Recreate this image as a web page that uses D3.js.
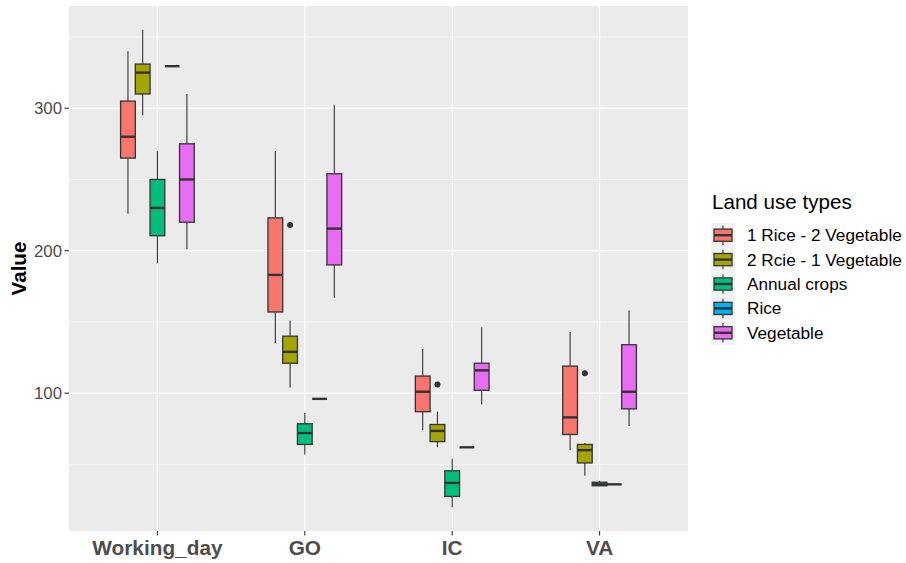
<!DOCTYPE html>
<html>
<head>
<meta charset="utf-8">
<script src="https://cdn.jsdelivr.net/npm/d3@7"></script>
<style>
  body { margin: 0; background: #fff; }
  svg { display: block; font-family: "Liberation Sans", Arial, sans-serif; }
</style>
</head>
<body>
<svg id="chart"></svg>
<script>
// categories on the x axis and the fill groups
var categories = ["Working_day", "GO", "IC", "VA"];
var landUse = ["1 Rice - 2 Vegetable", "2 Rcie - 1 Vegetable", "Annual crops", "Rice", "Vegetable"];
var colors = ["#F8766D", "#A3A500", "#00BF7D", "#00B0F6", "#E76BF3"];

// box stats per category: [lower whisker, q1, median, q3, upper whisker]
var rice1Veg2 = [[226, 265, 280, 305, 340], [135, 157, 183, 223, 270], [74, 87, 101, 112, 131], [60, 71, 83, 119, 143]];
var rice2Veg1 = [[295, 310, 325, 331, 355], [104, 121, 129, 140, 151], [62, 66, 73.5, 78, 87], [42, 51, 60, 64, 65]];
var annualCrops = [[191, 210.5, 230, 250, 270], [57, 64, 72, 78.5, 86], [20, 27.5, 37, 45.5, 54], [35, 35, 36, 37.5, 38.5]];
var rice = [[329.5, 329.5, 329.5, 329.5, 329.5], [96, 96, 96, 96, 96], [62, 62, 62, 62, 62], [36, 36, 36, 36, 36]];
var vegetable = [[201, 220, 250, 275, 310], [167, 190, 215.5, 254, 302], [92, 102, 116, 121, 146], [77, 89, 101, 134, 158]];

// outliers per category
var rice1Veg2Out = [[], [], [], []];
var rice2Veg1Out = [[], [218], [106], [114]];
var annualOut = [[], [], [], []];
var riceOut = [[], [], [], []];
var vegetableOut = [[], [], [], []];

var yTicks = [100, 200, 300];
var yMinor = [50, 150, 250, 350];

var stats = [rice1Veg2, rice2Veg1, annualCrops, rice, vegetable];
var outs = [rice1Veg2Out, rice2Veg1Out, annualOut, riceOut, vegetableOut];

var width = 906, height = 563;
var panel = {left: 69, right: 688, top: 6, bottom: 531};

var svg = d3.select("#chart").attr("width", width).attr("height", height);

// y domain from data with 5% expansion like ggplot
var allVals = [];
stats.forEach(function(s) { s.forEach(function(b) { allVals.push(b[0], b[4]); }); });
outs.forEach(function(s) { s.forEach(function(o) { o.forEach(function(v) { allVals.push(v); }); }); });
var lo = d3.min(allVals), hi = d3.max(allVals), pad = (hi - lo) * 0.05;

var y = d3.scaleLinear().domain([lo - pad, hi + pad]).range([panel.bottom, panel.top]);
var x = d3.scalePoint().domain(categories).range([panel.left, panel.right]).padding(0.6);
var step = x.step();
var dodge = d3.scaleBand().domain(landUse).range([-0.25 * step, 0.25 * step]);

// panel background and grid
svg.append("rect")
  .attr("x", panel.left).attr("y", panel.top)
  .attr("width", panel.right - panel.left).attr("height", panel.bottom - panel.top)
  .attr("fill", "#EBEBEB");

svg.selectAll(".minor").data(yMinor).enter().append("line")
  .attr("x1", panel.left).attr("x2", panel.right)
  .attr("y1", function(d) { return y(d); }).attr("y2", function(d) { return y(d); })
  .attr("stroke", "#fff").attr("stroke-width", 0.6);

svg.selectAll(".major").data(yTicks).enter().append("line")
  .attr("x1", panel.left).attr("x2", panel.right)
  .attr("y1", function(d) { return y(d); }).attr("y2", function(d) { return y(d); })
  .attr("stroke", "#fff").attr("stroke-width", 1.2);

svg.selectAll(".vgrid").data(categories).enter().append("line")
  .attr("x1", function(d) { return x(d); }).attr("x2", function(d) { return x(d); })
  .attr("y1", panel.top).attr("y2", panel.bottom)
  .attr("stroke", "#fff").attr("stroke-width", 1.2);

// boxes
landUse.forEach(function(name, gi) {
  var g = svg.append("g");
  var bw = dodge.bandwidth();
  categories.forEach(function(cat, ci) {
    var b = stats[gi][ci];
    var cx = x(cat) + dodge(name) + bw / 2;
    g.append("line")
      .attr("x1", cx).attr("x2", cx).attr("y1", y(b[4])).attr("y2", y(b[3]))
      .attr("stroke", "#333").attr("stroke-width", 1.1);
    g.append("line")
      .attr("x1", cx).attr("x2", cx).attr("y1", y(b[1])).attr("y2", y(b[0]))
      .attr("stroke", "#333").attr("stroke-width", 1.1);
    g.append("rect")
      .attr("x", cx - bw / 2).attr("width", bw)
      .attr("y", y(b[3])).attr("height", y(b[1]) - y(b[3]))
      .attr("fill", colors[gi]).attr("stroke", "#333").attr("stroke-width", 1.3);
    g.append("line")
      .attr("x1", cx - bw / 2).attr("x2", cx + bw / 2).attr("y1", y(b[2])).attr("y2", y(b[2]))
      .attr("stroke", "#333").attr("stroke-width", 2.4);
    outs[gi][ci].forEach(function(v) {
      g.append("circle").attr("cx", cx).attr("cy", y(v)).attr("r", 3).attr("fill", "#333");
    });
  });
});

// y axis
var yAxis = svg.append("g");
yAxis.selectAll("line").data(yTicks).enter().append("line")
  .attr("x1", panel.left - 4.5).attr("x2", panel.left)
  .attr("y1", function(d) { return y(d); }).attr("y2", function(d) { return y(d); })
  .attr("stroke", "#333").attr("stroke-width", 1.1);
yAxis.selectAll("text").data(yTicks).enter().append("text")
  .attr("x", panel.left - 7).attr("y", function(d) { return y(d); })
  .attr("dy", "0.35em").attr("text-anchor", "end")
  .attr("font-size", 16.8).attr("fill", "#4D4D4D")
  .text(function(d) { return d; });

// x axis
var xAxis = svg.append("g");
xAxis.selectAll("line").data(categories).enter().append("line")
  .attr("x1", function(d) { return x(d); }).attr("x2", function(d) { return x(d); })
  .attr("y1", panel.bottom).attr("y2", panel.bottom + 4.5)
  .attr("stroke", "#333").attr("stroke-width", 1.1);
xAxis.selectAll("text").data(categories).enter().append("text")
  .attr("x", function(d) { return x(d); }).attr("y", 555)
  .attr("text-anchor", "middle").attr("font-size", 20.8).attr("font-weight", "bold")
  .attr("fill", "#4D4D4D")
  .text(function(d) { return d; });

svg.append("text")
  .attr("transform", "translate(26," + (panel.top + panel.bottom) / 2 + ") rotate(-90)")
  .attr("text-anchor", "middle").attr("font-size", 20.6).attr("font-weight", "bold")
  .attr("fill", "#000").text("Value");

// legend
var legend = svg.append("g").attr("transform", "translate(711,223)");
legend.append("text").attr("x", 1).attr("y", -14).attr("font-size", 20.6).attr("fill", "#000")
  .text("Land use types");
var ks = 24.4;
var item = legend.selectAll(".item").data(landUse).enter().append("g")
  .attr("transform", function(d, i) { return "translate(0," + i * ks + ")"; });
item.append("rect").attr("width", 24).attr("height", ks).attr("fill", "#F2F2F2");
item.append("line").attr("x1", 12).attr("x2", 12).attr("y1", ks * 0.1).attr("y2", ks * 0.9)
  .attr("stroke", "#333").attr("stroke-width", 1.1);
item.append("rect").attr("x", 3).attr("width", 18).attr("y", ks * 0.25).attr("height", ks * 0.5)
  .attr("fill", function(d, i) { return colors[i]; }).attr("stroke", "#333").attr("stroke-width", 1.3);
item.append("line").attr("x1", 3).attr("x2", 21).attr("y1", ks / 2).attr("y2", ks / 2)
  .attr("stroke", "#333").attr("stroke-width", 2.4);
item.append("text").attr("x", 36).attr("y", ks / 2).attr("dy", "0.35em")
  .attr("font-size", 17.2).attr("fill", "#000")
  .text(function(d) { return d; });
</script>
</body>
</html>
